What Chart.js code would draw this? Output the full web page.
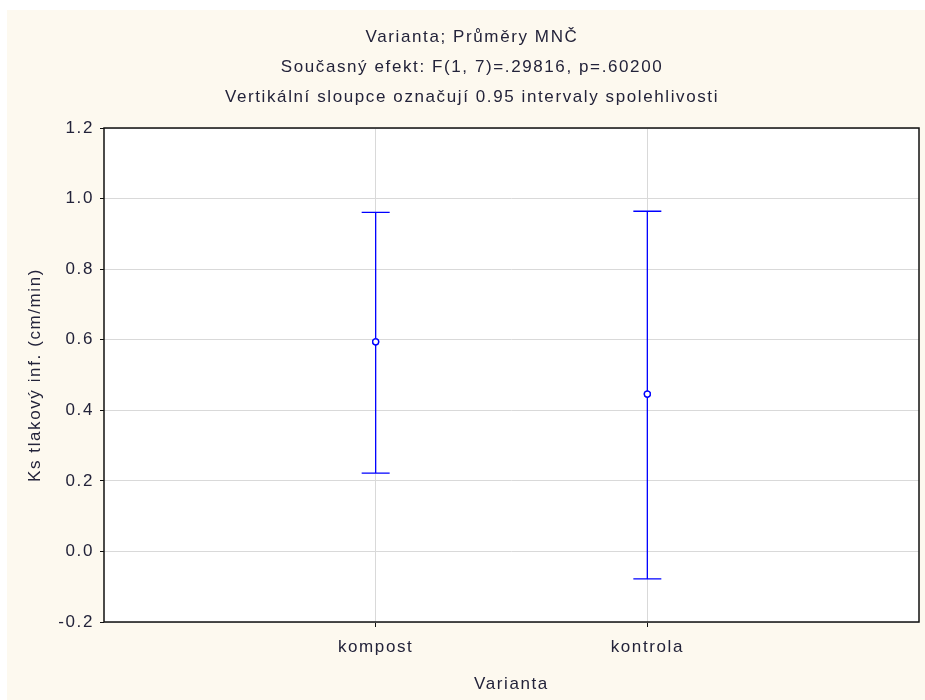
<!DOCTYPE html>
<html>
<head>
<meta charset="utf-8">
<script src="https://cdn.jsdelivr.net/npm/chart.js@4/dist/chart.umd.min.js"></script>
<style>
    html, body { margin: 0; padding: 0; background: #ffffff; }
    #wrap { position: absolute; left: 7px; top: 10px; width: 918px; height: 690px; background: #fdf9ef; }
</style>
</head>
<body>
<div id="wrap"><canvas id="chart" width="918" height="690"></canvas></div>
<script>
// data
const categories = ['kompost', 'kontrola'];
const means = [0.594, 0.446];
const lowerCI = [0.222, -0.078];
const upperCI = [0.961, 0.964];
const yTicks = [-0.2, 0.0, 0.2, 0.4, 0.6, 0.8, 1.0, 1.2];
const titleLines = [
    'Varianta; Průměry MNČ',
    'Současný efekt: F(1, 7)=.29816, p=.60200',
    'Vertikální sloupce označují 0.95 intervaly spolehlivosti'
];

const textColor = '#23233a';
const blue = '#0000ff';
const font = 'Liberation Sans, Arial, sans-serif';

// white plot area, and the wide letter spacing of the original text
const plotBackground = {
    id: 'plotBackground',
    beforeDraw(chart) {
        const ctx = chart.ctx;
        const a = chart.chartArea;
        ctx.letterSpacing = '1.6px';
        ctx.save();
        ctx.fillStyle = '#ffffff';
        ctx.fillRect(a.left, a.top, a.right - a.left, a.bottom - a.top);
        ctx.restore();
    }
};

// error bars + frame around the plot
const errorBars = {
    id: 'errorBars',
    afterDatasetsDraw(chart) {
        const ctx = chart.ctx;
        const x = chart.scales.x, y = chart.scales.y;
        ctx.save();
        ctx.strokeStyle = blue;
        ctx.lineWidth = 1.3;
        categories.forEach((c, i) => {
            const px = x.getPixelForValue(i + 1);
            const top = y.getPixelForValue(upperCI[i]);
            const bot = y.getPixelForValue(lowerCI[i]);
            ctx.beginPath();
            ctx.moveTo(px, top); ctx.lineTo(px, bot);
            ctx.moveTo(px - 14, top); ctx.lineTo(px + 14, top);
            ctx.moveTo(px - 14, bot); ctx.lineTo(px + 14, bot);
            ctx.stroke();
        });
        // means again on top of the lines
        ctx.fillStyle = '#ffffff';
        categories.forEach((c, i) => {
            ctx.beginPath();
            ctx.arc(x.getPixelForValue(i + 1), y.getPixelForValue(means[i]), 3, 0, Math.PI * 2);
            ctx.fill();
            ctx.stroke();
        });
        const a = chart.chartArea;
        ctx.strokeStyle = '#111111';
        ctx.lineWidth = 1.5;
        ctx.strokeRect(a.left, a.top, a.right - a.left, a.bottom - a.top);
        ctx.restore();
    }
};

new Chart(document.getElementById('chart').getContext('2d'), {
    type: 'scatter',
    data: {
        datasets: [{
            data: means.map((m, i) => ({ x: i + 1, y: m })),
            pointRadius: 3,
            pointBorderColor: blue,
            pointBackgroundColor: '#ffffff',
            pointBorderWidth: 1.3
        }]
    },
    options: {
        responsive: false,
        animation: false,
        layout: { padding: { left: 18, right: 6, top: 0, bottom: 0 } },
        plugins: {
            legend: { display: false },
            tooltip: { enabled: false },
            title: {
                display: true,
                text: titleLines,
                color: textColor,
                font: { family: font, size: 17, weight: 'normal', lineHeight: 30 / 17 },
                padding: { top: 12, bottom: 16 }
            }
        },
        scales: {
            x: {
                type: 'linear',
                min: 0,
                max: 3,
                afterBuildTicks: s => { s.ticks = [{ value: 1 }, { value: 2 }]; },
                afterFit: s => { s.height = 78; },
                ticks: {
                    color: textColor,
                    font: { family: font, size: 17 },
                    padding: 10,
                    callback: v => categories[v - 1]
                },
                grid: { color: '#d9d9d9', tickColor: '#111111', tickLength: 5, lineWidth: 1 },
                border: { display: false },
                title: {
                    display: true,
                    text: 'Varianta',
                    color: textColor,
                    font: { family: font, size: 17 },
                    padding: { top: 0, bottom: 5 }
                }
            },
            y: {
                min: -0.2,
                max: 1.2,
                afterBuildTicks: s => { s.ticks = yTicks.map(v => ({ value: v })); },
                afterFit: s => { s.width = 79; },
                ticks: {
                    color: textColor,
                    font: { family: font, size: 17 },
                    padding: 6,
                    callback: v => v.toFixed(1)
                },
                grid: { color: '#d9d9d9', tickColor: '#111111', tickLength: 4, lineWidth: 1 },
                border: { display: false },
                title: {
                    display: true,
                    text: 'Ks tlakový inf. (cm/min)',
                    color: textColor,
                    font: { family: font, size: 17 },
                    padding: { top: 0, bottom: 0 }
                }
            }
        }
    },
    plugins: [plotBackground, errorBars]
});
</script>
</body>
</html>
